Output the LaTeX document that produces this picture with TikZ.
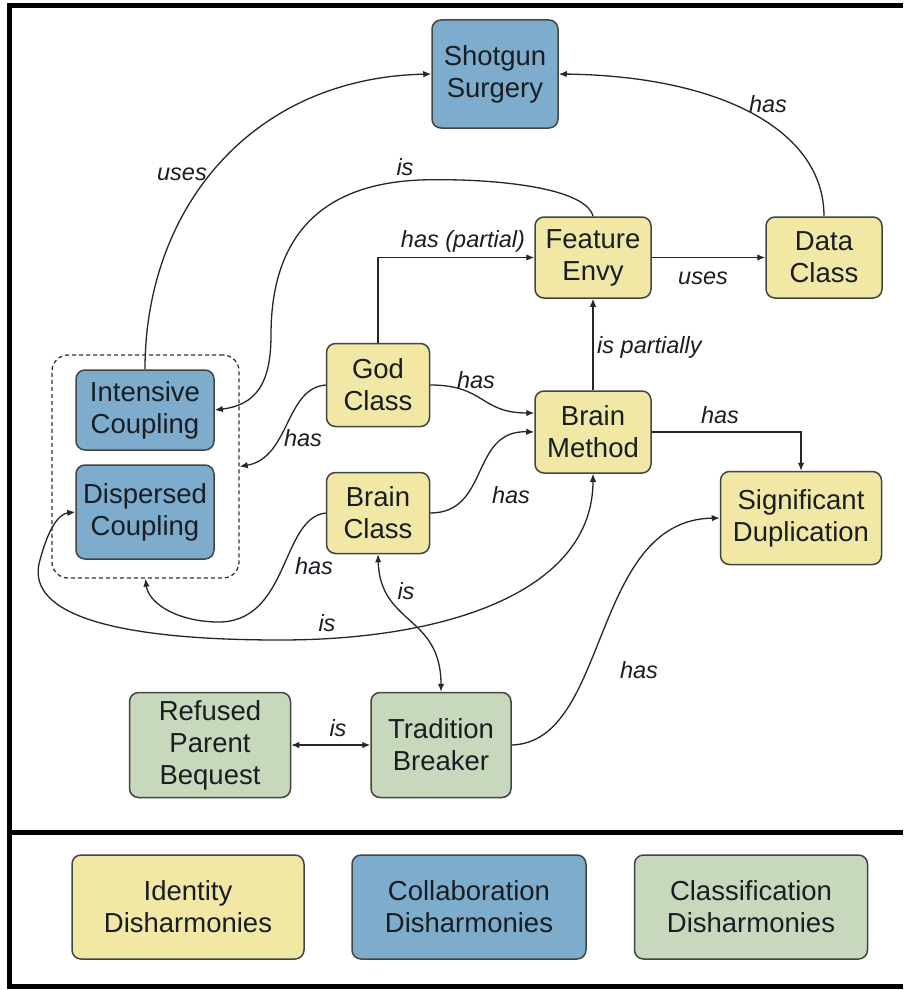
\documentclass[tikz,border=0pt]{standalone}
\usepackage{fontspec}
\setmainfont{Liberation Sans}
\usetikzlibrary{arrows.meta,calc}
\definecolor{idy}{RGB}{242,232,166}
\definecolor{col}{RGB}{125,172,205}
\definecolor{cls}{RGB}{200,216,188}
\definecolor{bordc}{RGB}{65,70,65}
\definecolor{txt}{RGB}{25,30,35}
\tikzset{
  box/.style={draw=bordc, line width=1.5, rounded corners=9, align=center, inner sep=0,
    font=\fontsize{27.5}{32}\selectfont, text=txt},
  idbox/.style={box, fill=idy},
  cobox/.style={box, fill=col},
  clbox/.style={box, fill=cls},
  lab/.style={font=\fontsize{23.5}{26}\selectfont\itshape, inner sep=0, text=txt},
  arr/.style={-{Latex[length=8,width=6.5]}, line width=1.3, draw=black!85},
  arrboth/.style={{Latex[length=8,width=6.5]}-{Latex[length=8,width=6.5]}, line width=1.3, draw=black!85}
}
\begin{document}
\begin{tikzpicture}[x=1pt,y=-1pt]
\useasboundingbox (0,0) rectangle (903,990);
\fill[white] (0,0) rectangle (903,990);
% frame
\draw[line width=5] (903,5.5) -- (9.5,5.5) -- (9.5,986) -- (903,986);
\draw[line width=5] (9.5,832) -- (903,832);

% group
\node[draw=black!80, dashed, dash pattern=on 4pt off 3pt, line width=1.3, rounded corners=16,
  minimum width=187, minimum height=223, inner sep=0] (grp) at (145.5,466.5) {};

% nodes
\node[cobox, minimum width=126, minimum height=108] (ss) at (495,74) {Shotgun\\Surgery};
\node[idbox, minimum width=116, minimum height=81] (fe) at (593,257.5) {Feature\\Envy};
\node[idbox, minimum width=116, minimum height=81] (dc) at (824,257.5) {Data\\Class};
\node[idbox, minimum width=103, minimum height=83] (gc) at (378,385) {God\\Class};
\node[cobox, minimum width=138, minimum height=80] (ic) at (145,410) {Intensive\\Coupling};
\node[cobox, minimum width=138, minimum height=94] (dsp) at (145,512) {Dispersed\\Coupling};
\node[idbox, minimum width=116, minimum height=82] (bm) at (593,432) {Brain\\Method};
\node[idbox, minimum width=103, minimum height=81] (bc) at (378,513) {Brain\\Class};
\node[idbox, minimum width=161, minimum height=93] (sd) at (801,518) {Significant\\Duplication};
\node[clbox, minimum width=161, minimum height=105] (rpb) at (210,745) {Refused\\Parent\\Bequest};
\node[clbox, minimum width=140, minimum height=105] (tb) at (441,745) {Tradition\\Breaker};

% legend
\node[idbox, minimum width=232, minimum height=104] (l1) at (188,907) {Identity\\Disharmonies};
\node[cobox, minimum width=234, minimum height=104] (l2) at (469,907) {Collaboration\\Disharmonies};
\node[clbox, minimum width=233, minimum height=104] (l3) at (751,907) {Classification\\Disharmonies};

% edges
\draw[arr] (ic.north) .. controls (145,210) and (250,78) .. (ss.west);
\draw[arr] (dc.north) .. controls (824,130) and (720,76) .. (ss.east);
\draw[arr] (fe.north) .. controls (585,185) and (480,178) .. (420,180)
  .. controls (300,185) and (271,260) .. (271,335)
  .. controls (271,385) and (255,405) .. (ic.east);
\draw[arr] (gc.north) |- (fe.west);
\draw[arr] (fe.east) -- (dc.west);
\draw[arr] (bm.north) -- (fe.south);
\draw[arr] (gc.east) .. controls (485,385) and (480,413) .. ($(bm.west)+(0,-19)$);
\draw[arr] (gc.west) .. controls (285,388) and (290,458) .. (grp.east);
\draw[arr] (bc.east) .. controls (490,513) and (470,430) .. (bm.west);
\draw[arr] (bc.west) .. controls (280,518) and (290,625) .. (215,622)
  .. controls (170,620) and (148,600) .. (grp.south);
\draw[arrboth] (bm.south) .. controls (593,590) and (450,640) .. (280,640)
  .. controls (100,640) and (25,610) .. (40,560)
  .. controls (48,530) and (58,514) .. (dsp.west);
\draw[arrboth] (bc.south) .. controls (380,625) and (441,615) .. (tb.north);
\draw[arr] (bm.east) -| (sd.north);
\draw[arr] (tb.east) .. controls (610,742) and (590,520) .. (sd.west);
\draw[arrboth] (rpb.east) -- (tb.west);

% labels
\node[lab] (t1) at (182,174) {uses};
\node[lab] (t2) at (768,104) {has};
\node[lab] (t3) at (405,167) {is};
\node[lab] (t4) at (463,241) {has (partial)};
\node[lab] (t5) at (703,278) {uses};
\node[lab, anchor=west] (t6) at (597,347) {is partially};
\node[lab] (t7) at (476,380) {has};
\node[lab] (t8) at (303,438) {has};
\node[lab] (t9) at (511,495) {has};
\node[lab] (t10) at (314,566) {has};
\node[lab] (t11) at (327,623) {is};
\node[lab] (t12) at (406,591) {is};
\node[lab] (t13) at (720,415) {has};
\node[lab] (t14) at (639,670) {has};
\node[lab] (t15) at (338,728) {is};
\end{tikzpicture}
\end{document}
